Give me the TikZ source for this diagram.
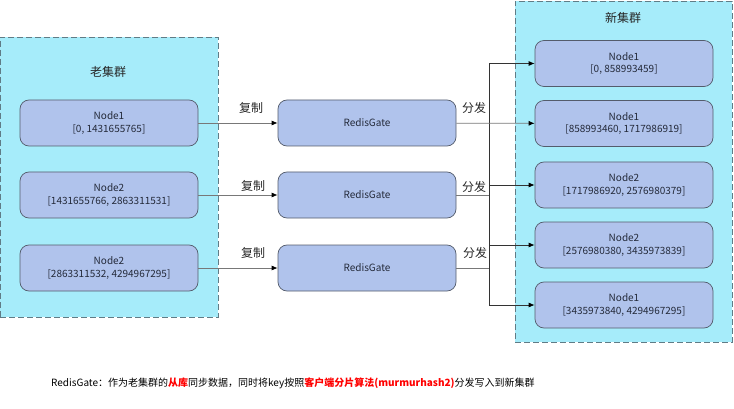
\documentclass[tikz,border=0pt]{standalone}
\usepackage{fontspec}
\setmainfont{Noto Sans CJK SC}
\usetikzlibrary{arrows.meta}
\definecolor{clusterbg}{RGB}{166,236,250}
\definecolor{clusterline}{RGB}{96,124,134}
\definecolor{nodebg}{RGB}{176,195,236}
\definecolor{nodeline}{RGB}{84,92,108}
\definecolor{nodetext}{RGB}{36,42,58}
\definecolor{wire}{RGB}{120,120,120}
\tikzset{
  cluster/.style={draw=clusterline, fill=clusterbg, dash pattern=on 6pt off 3pt, line width=0.9pt},
  shard/.style={draw=nodeline, fill=nodebg, rounded corners=9pt, line width=0.7pt,
    minimum width=178pt, minimum height=46pt, align=center, text=nodetext,
    font=\fontsize{10}{12.5}\selectfont},
  lbl/.style={font=\fontsize{12}{14}\selectfont, text=black!85},
  feed/.style={draw=wire, line width=0.8pt, -{Latex[length=6pt,width=5pt,color=black]}},
  bus/.style={draw=black!80, line width=0.8pt, -{Latex[length=6pt,width=5pt,color=black]}}
}
\begin{document}
\begin{tikzpicture}[x=1pt,y=-1pt]
\useasboundingbox (0,0) rectangle (734,409);
% clusters
\node[cluster, minimum width=218pt, minimum height=280pt] (oldc) at (109,177){};
\node[lbl] (oldt) at (108,72){老集群};
\node[cluster, minimum width=217pt, minimum height=341pt] (newc) at (623.5,171.5){};
\node[lbl] (newt) at (623,18){新集群};
% old nodes
\node[shard] (old1) at (109,123){Node1\\{[0, 1431655765]}};
\node[shard] (old2) at (109,195){Node2\\{[1431655766, 2863311531]}};
\node[shard] (old3) at (109,268){Node2\\{[2863311532, 4294967295]}};
% redis gates
\node[shard] (gate1) at (367,123){RedisGate};
\node[shard] (gate2) at (367,195){RedisGate};
\node[shard] (gate3) at (367,268){RedisGate};
% new nodes
\node[shard] (new1) at (624,63.5){Node1\\{[0, 858993459]}};
\node[shard] (new2) at (624,123.5){Node1\\{[858993460, 1717986919]}};
\node[shard] (new3) at (624,185){Node2\\{[1717986920, 2576980379]}};
\node[shard] (new4) at (624,245){Node2\\{[2576980380, 3435973839]}};
\node[shard] (new5) at (624,305){Node1\\{[3435973840, 4294967295]}};
% copy
\draw[feed] (old1) -- (gate1);
\draw[feed] (old2) -- (gate2);
\draw[feed] (old3) -- (gate3);
\node[lbl] (cp1) at (251,108){复制};
\node[lbl] (cp2) at (253,186){复制};
\node[lbl] (cp3) at (253,253){复制};
% dispatch
\coordinate (b1) at (489,63.5);
\coordinate (b2) at (489,195);
\coordinate (b3) at (489,268);
\coordinate (b5) at (489,305);
\draw[draw=black!80, line width=0.8pt] (b1) -- (b5);
\draw[feed] (gate1) -- (new2);
\draw[draw=wire, line width=0.8pt] (gate2) -- (b2);
\draw[draw=wire, line width=0.8pt] (gate3) -- (b3);
\draw[bus] (b1) -- (new1);
\draw[bus] (b1 |- new3) -- (new3);
\draw[bus] (b1 |- new4) -- (new4);
\draw[bus] (b5) -- (new5);
\node[lbl] (ds1) at (474,108){分发};
\node[lbl] (ds2) at (474,187){分发};
\node[lbl] (ds3) at (475,253){分发};
% caption
\node[anchor=west, font=\fontsize{10}{12}\selectfont, inner sep=0pt] (note) at (51,383)
  {RedisGate：作为老集群的\textcolor{red}{\bfseries 从库}同步数据，同时将key按照\textcolor{red}{\bfseries 客户端分片算法(murmurhash2)}分发写入到新集群};
\end{tikzpicture}
\end{document}
